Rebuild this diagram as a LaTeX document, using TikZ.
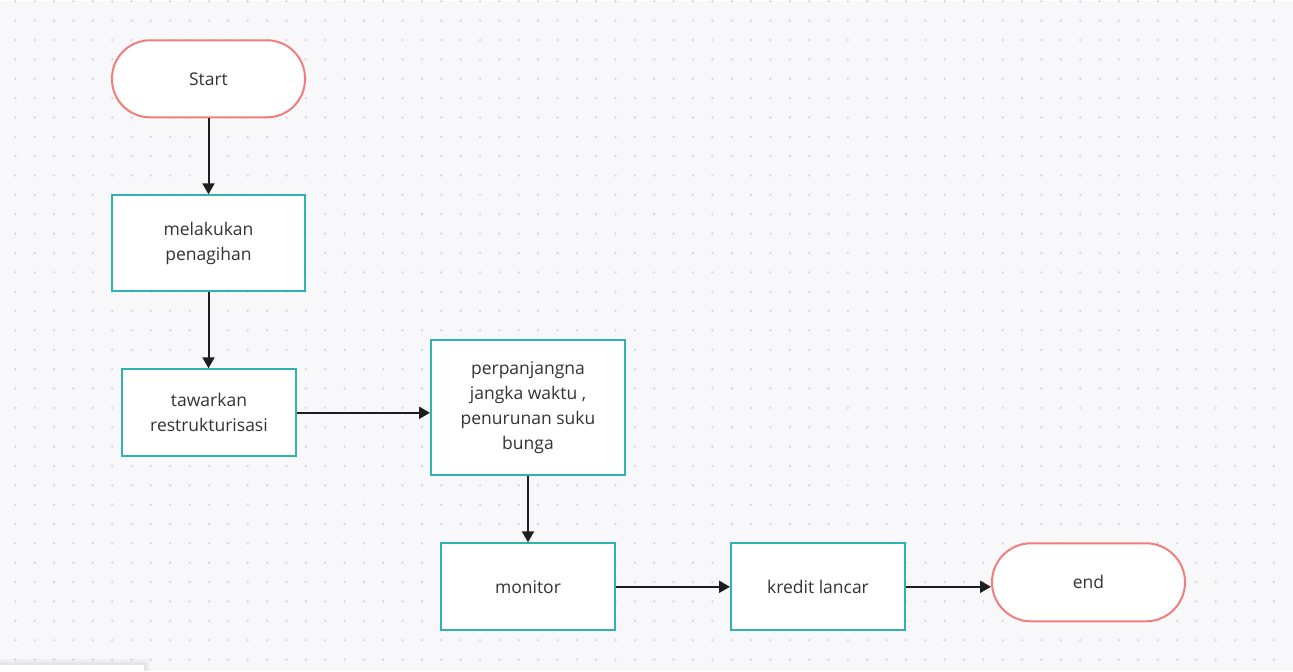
\documentclass[tikz,border=0pt]{standalone}
\usepackage{fontspec}
\setmainfont{Open Sans}
\usetikzlibrary{arrows.meta}
\definecolor{paperbg}{HTML}{F8F8FA}
\definecolor{dotgray}{HTML}{D6D6DB}
\definecolor{pillred}{HTML}{F27D7D}
\definecolor{boxteal}{HTML}{2EB3AE}
\definecolor{inkgray}{HTML}{333333}
\definecolor{arrowink}{HTML}{1E1E1E}

\begin{document}
\begin{tikzpicture}[x=1pt, y=-1pt,
    terminal/.style={draw=pillred, line width=2pt, fill=white, rounded corners=38pt,
        minimum width=193pt, minimum height=77pt, inner sep=0pt, text=inkgray,
        font=\fontsize{17.5}{25}\selectfont},
    process/.style={draw=boxteal, line width=2pt, fill=white, minimum width=174pt,
        minimum height=87pt, inner sep=0pt, align=center, text=inkgray,
        font=\fontsize{17.5}{25}\selectfont},
    flow/.style={draw=arrowink, line width=2pt, -{Triangle[length=11pt,width=12pt]}}]

            % background and dot grid
            \fill[paperbg] (0,0) rectangle (1293,670);
            \foreach \i in {0,...,65} {
                \foreach \j in {0,...,34} {
                    \fill[dotgray] (15.4+19.36*\i, 19.36*\j) circle (1.3pt);
                }
            }
            \fill[black, opacity=0.03] (0,658) rectangle (150,670);
            \fill[black, opacity=0.04] (0,661) rectangle (147,670);
            \fill[white] (0,664) rectangle (144,670);

            \node[terminal] (start) at (208.5,77.5) {Start};
            \node[process, minimum width=193pt, minimum height=96pt] (tagih) at (208.5,242) {melakukan\\penagihan};
            \node[process] (tawar) at (209,411.5) {tawarkan\\restrukturisasi};
            \node[process, minimum width=194pt, minimum height=135pt] (panjang) at (528,406.5) {perpanjangna\\jangka waktu ,\\penurunan suku\\bunga};
            \node[process] (monitor) at (528,585.5) {monitor};
            \node[process] (lancar) at (818,585.5) {kredit lancar};
            \node[terminal, minimum height=78pt, rounded corners=39pt] (stop) at (1088.5,581) {end};

            \draw[flow] (start) -- (tagih);
            \draw[flow] (tagih.south) -- (tagih.south |- tawar.north);
            \draw[flow] (tawar.east) -- (tawar.east -| panjang.west);
            \draw[flow] (panjang) -- (monitor);
            \draw[flow] (monitor) -- (lancar);
            \draw[flow] (lancar.east) -- (lancar.east -| stop.west);

        \end{tikzpicture}
\end{document}
